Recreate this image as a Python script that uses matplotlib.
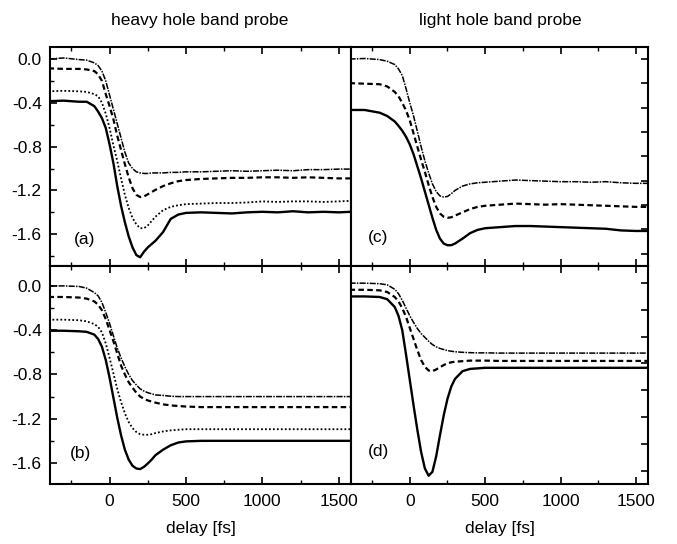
import matplotlib
matplotlib.use('Agg')
import matplotlib.pyplot as plt
import numpy as np
from matplotlib.ticker import MultipleLocator, FixedLocator

plt.rcParams['font.family'] = ['Liberation Sans', 'DejaVu Sans']

# ---------------- data (delay in fs, signal in arb. units) ----------------
delay = [-400, -300, -200, -150, -100, -75, -50, -25, 0, 25, 50, 75, 100, 125, 150,
         175, 200, 225, 250, 275, 300, 350, 400, 450, 500, 600, 700, 800, 900,
         1000, 1100, 1200, 1300, 1400, 1500, 1580]

# (a) heavy hole, measured
a1 = [0.00, 0.01, -0.005, -0.01, -0.035, -0.06, -0.11, -0.20, -0.33, -0.46, -0.59, -0.72,
      -0.85, -0.95, -1.00, -1.03, -1.04, -1.045, -1.045, -1.04, -1.04, -1.04, -1.035,
      -1.035, -1.03, -1.03, -1.025, -1.02, -1.025, -1.02, -1.015, -1.02, -1.01, -1.01,
      -1.005, -1.005]
a2 = [-0.085, -0.09, -0.09, -0.095, -0.11, -0.14, -0.20, -0.32, -0.43, -0.55, -0.70, -0.83,
      -0.96, -1.08, -1.18, -1.24, -1.26, -1.255, -1.235, -1.215, -1.195, -1.16, -1.135,
      -1.115, -1.105, -1.095, -1.09, -1.085, -1.085, -1.08, -1.08, -1.085, -1.08, -1.085,
      -1.09, -1.09]
a3 = [-0.295, -0.29, -0.295, -0.30, -0.32, -0.34, -0.40, -0.50, -0.63, -0.79, -0.93, -1.09,
      -1.24, -1.36, -1.45, -1.51, -1.545, -1.545, -1.52, -1.48, -1.44, -1.38, -1.35,
      -1.335, -1.325, -1.32, -1.315, -1.315, -1.31, -1.30, -1.305, -1.30, -1.30, -1.305,
      -1.30, -1.295]
a4 = [-0.385, -0.38, -0.39, -0.39, -0.43, -0.48, -0.54, -0.63, -0.78, -0.95, -1.16, -1.34,
      -1.49, -1.62, -1.72, -1.79, -1.81, -1.76, -1.72, -1.69, -1.66, -1.58, -1.46, -1.42,
      -1.405, -1.40, -1.405, -1.41, -1.40, -1.395, -1.40, -1.39, -1.40, -1.395, -1.40,
      -1.395]

# (b) heavy hole, calculated
b1 = [0.0, 0.0, -0.005, -0.02, -0.06, -0.09, -0.15, -0.24, -0.34, -0.45, -0.56, -0.65,
      -0.73, -0.80, -0.855, -0.895, -0.93, -0.95, -0.965, -0.975, -0.985, -0.99, -0.997,
      -1.0, -1.0, -1.0, -1.0, -1.0, -1.0, -1.0, -1.0, -1.0, -1.0, -1.0, -1.0, -1.0]
b2 = [-0.10, -0.10, -0.105, -0.115, -0.14, -0.17, -0.22, -0.30, -0.40, -0.50, -0.61, -0.72,
      -0.80, -0.87, -0.92, -0.965, -1.00, -1.02, -1.035, -1.045, -1.055, -1.07, -1.08,
      -1.085, -1.09, -1.095, -1.095, -1.095, -1.095, -1.095, -1.095, -1.095, -1.095,
      -1.095, -1.095, -1.095]
b3 = [-0.305, -0.305, -0.31, -0.32, -0.345, -0.37, -0.42, -0.52, -0.65, -0.79, -0.93, -1.05,
      -1.15, -1.23, -1.285, -1.32, -1.34, -1.345, -1.345, -1.34, -1.33, -1.315, -1.305,
      -1.30, -1.295, -1.295, -1.295, -1.295, -1.295, -1.295, -1.295, -1.295, -1.295,
      -1.295, -1.295, -1.295]
b4 = [-0.405, -0.405, -0.41, -0.415, -0.44, -0.48, -0.55, -0.67, -0.83, -1.01, -1.19, -1.35,
      -1.48, -1.57, -1.625, -1.65, -1.655, -1.635, -1.605, -1.57, -1.53, -1.48, -1.44,
      -1.415, -1.405, -1.40, -1.40, -1.40, -1.40, -1.40, -1.40, -1.40, -1.40, -1.40,
      -1.40, -1.40]

# (c) light hole, measured
c1 = [0.0, 0.005, -0.005, -0.02, -0.05, -0.09, -0.15, -0.27, -0.40, -0.52, -0.66, -0.80,
      -0.93, -1.04, -1.14, -1.21, -1.25, -1.26, -1.255, -1.23, -1.20, -1.16, -1.14, -1.13,
      -1.125, -1.115, -1.105, -1.11, -1.115, -1.12, -1.12, -1.125, -1.12, -1.13, -1.135,
      -1.135]
c2 = [-0.22, -0.225, -0.23, -0.25, -0.30, -0.34, -0.40, -0.47, -0.56, -0.68, -0.80, -0.92,
      -1.03, -1.15, -1.26, -1.35, -1.41, -1.44, -1.45, -1.445, -1.43, -1.40, -1.37, -1.35,
      -1.34, -1.33, -1.32, -1.325, -1.33, -1.325, -1.33, -1.335, -1.34, -1.345, -1.35,
      -1.35]
c3 = [-0.465, -0.465, -0.49, -0.52, -0.57, -0.61, -0.655, -0.71, -0.78, -0.87, -0.98, -1.09,
      -1.21, -1.33, -1.45, -1.56, -1.64, -1.685, -1.70, -1.70, -1.685, -1.64, -1.59, -1.56,
      -1.545, -1.535, -1.525, -1.525, -1.53, -1.535, -1.54, -1.545, -1.55, -1.565, -1.57,
      -1.57]

# (d) light hole, calculated
d1 = [0.025, 0.025, 0.02, 0.01, -0.03, -0.07, -0.13, -0.20, -0.27, -0.33, -0.385, -0.43,
      -0.465, -0.50, -0.53, -0.55, -0.565, -0.575, -0.585, -0.59, -0.595, -0.60, -0.603,
      -0.605, -0.605, -0.607, -0.607, -0.607, -0.607, -0.607, -0.607, -0.607, -0.607,
      -0.607, -0.607, -0.607]
d2 = [-0.035, -0.035, -0.04, -0.055, -0.10, -0.14, -0.20, -0.28, -0.38, -0.48, -0.58, -0.67,
      -0.73, -0.765, -0.77, -0.755, -0.735, -0.715, -0.70, -0.69, -0.685, -0.68, -0.675,
      -0.675, -0.675, -0.678, -0.678, -0.678, -0.678, -0.678, -0.678, -0.678, -0.678,
      -0.678, -0.678, -0.678]
d3 = [-0.095, -0.095, -0.10, -0.12, -0.19, -0.27, -0.40, -0.62, -0.85, -1.08, -1.30, -1.50,
      -1.65, -1.715, -1.68, -1.54, -1.35, -1.17, -1.02, -0.91, -0.84, -0.77, -0.75, -0.745,
      -0.74, -0.74, -0.74, -0.74, -0.74, -0.74, -0.74, -0.74, -0.74, -0.74, -0.74, -0.74]

y_ticks_left = [0.0, -0.4, -0.8, -1.2, -1.6]
y_tick_labels = ['0.0', '-0.4', '-0.8', '-1.2', '-1.6']
x_ticks = [0, 500, 1000, 1500]
x_tick_labels = ['0', '500', '1000', '1500']

# ---------------- styles ----------------
thin = dict(color='black', lw=1.1, linestyle=(0, (4, 0.8, 1, 0.8)))
dashed = dict(color='black', lw=1.6, linestyle=(0, (2.5, 1.5)))
dotted = dict(color='black', lw=1.3, linestyle=(0, (1, 1.2)))
solid = dict(color='black', lw=1.7, linestyle='-')

fig = plt.figure(figsize=(6.77, 5.44), dpi=100)
L, M, R = 50 / 677, 351 / 677, 648 / 677
T, C, B = 1 - 47 / 544, 1 - 266 / 544, 1 - 484 / 544
axa = fig.add_axes([L, C, M - L, T - C])
axc = fig.add_axes([M, C, R - M, T - C])
axb = fig.add_axes([L, B, M - L, C - B])
axd = fig.add_axes([M, B, R - M, C - B])

top_ylim = (-1.89, 0.11)
bot_ylim = (-1.79, 0.18)


def style(ax, ylim, left, bottom_labels, right_ticks=None):
    for s in ax.spines.values():
        s.set_linewidth(1.5)
    ax.set_xlim(-390, 1580)
    ax.set_ylim(*ylim)
    ax.xaxis.set_major_locator(FixedLocator(x_ticks))
    ax.xaxis.set_minor_locator(MultipleLocator(250))
    ax.tick_params(axis='x', which='both', direction='in', top=True, bottom=True,
                   labelbottom=bottom_labels, labelsize=12.5, pad=7)
    ax.tick_params(axis='x', which='major', length=5, width=1.2)
    ax.tick_params(axis='x', which='minor', length=3, width=1.0)
    if bottom_labels:
        ax.set_xticklabels(x_tick_labels)
    if left:
        ax.yaxis.set_major_locator(FixedLocator(y_ticks_left))
        ax.set_yticklabels(y_tick_labels)
        ax.yaxis.set_minor_locator(MultipleLocator(0.2))
        ax.tick_params(axis='y', which='both', direction='in', left=True, right=False,
                       labelsize=12.5, pad=6)
        ax.tick_params(axis='y', which='major', length=5, width=1.2)
        ax.tick_params(axis='y', which='minor', length=3, width=1.0)
    else:
        ax.yaxis.set_major_locator(FixedLocator(right_ticks))
        ax.yaxis.set_minor_locator(FixedLocator([]))
        ax.tick_params(axis='y', which='both', direction='in', left=False, right=True,
                       labelleft=False, labelright=False, length=5, width=1.2)


axa.plot(delay, a1, **thin)
axa.plot(delay, a2, **dashed)
axa.plot(delay, a3, **dotted)
axa.plot(delay, a4, **solid)

axb.plot(delay, b1, **thin)
axb.plot(delay, b2, **dashed)
axb.plot(delay, b3, **dotted)
axb.plot(delay, b4, **solid)

axc.plot(delay, c1, **thin)
axc.plot(delay, c2, **dashed)
axc.plot(delay, c3, **solid)

axd.plot(delay, d1, **thin)
axd.plot(delay, d2, **dashed)
axd.plot(delay, d3, **solid)

style(axa, top_ylim, True, False)
style(axb, bot_ylim, True, True)
style(axc, top_ylim, False, False, list(np.arange(0, -1.9, -0.222)))
style(axd, bot_ylim, False, True, list(np.arange(0.027, -1.75, -0.2425)))

for ax, lab, x, y in [(axa, '(a)', 0.116, 0.119), (axc, '(c)', 0.091, 0.132),
                      (axb, '(b)', 0.10, 0.142), (axd, '(d)', 0.094, 0.147)]:
    ax.text(x, y, lab, transform=ax.transAxes, ha='center', va='center', fontsize=12.5)

fig.text(200 / 677, 1 - 20 / 544, 'heavy hole band probe', ha='center', va='center', fontsize=12.5)
fig.text(500 / 677, 1 - 20 / 544, 'light hole band probe', ha='center', va='center', fontsize=12.5)
fig.text(201 / 677, 1 - 528 / 544, 'delay [fs]', ha='center', va='center', fontsize=12.5)
fig.text(500 / 677, 1 - 528 / 544, 'delay [fs]', ha='center', va='center', fontsize=12.5)

fig.savefig('out.png', dpi=100, facecolor='white')
